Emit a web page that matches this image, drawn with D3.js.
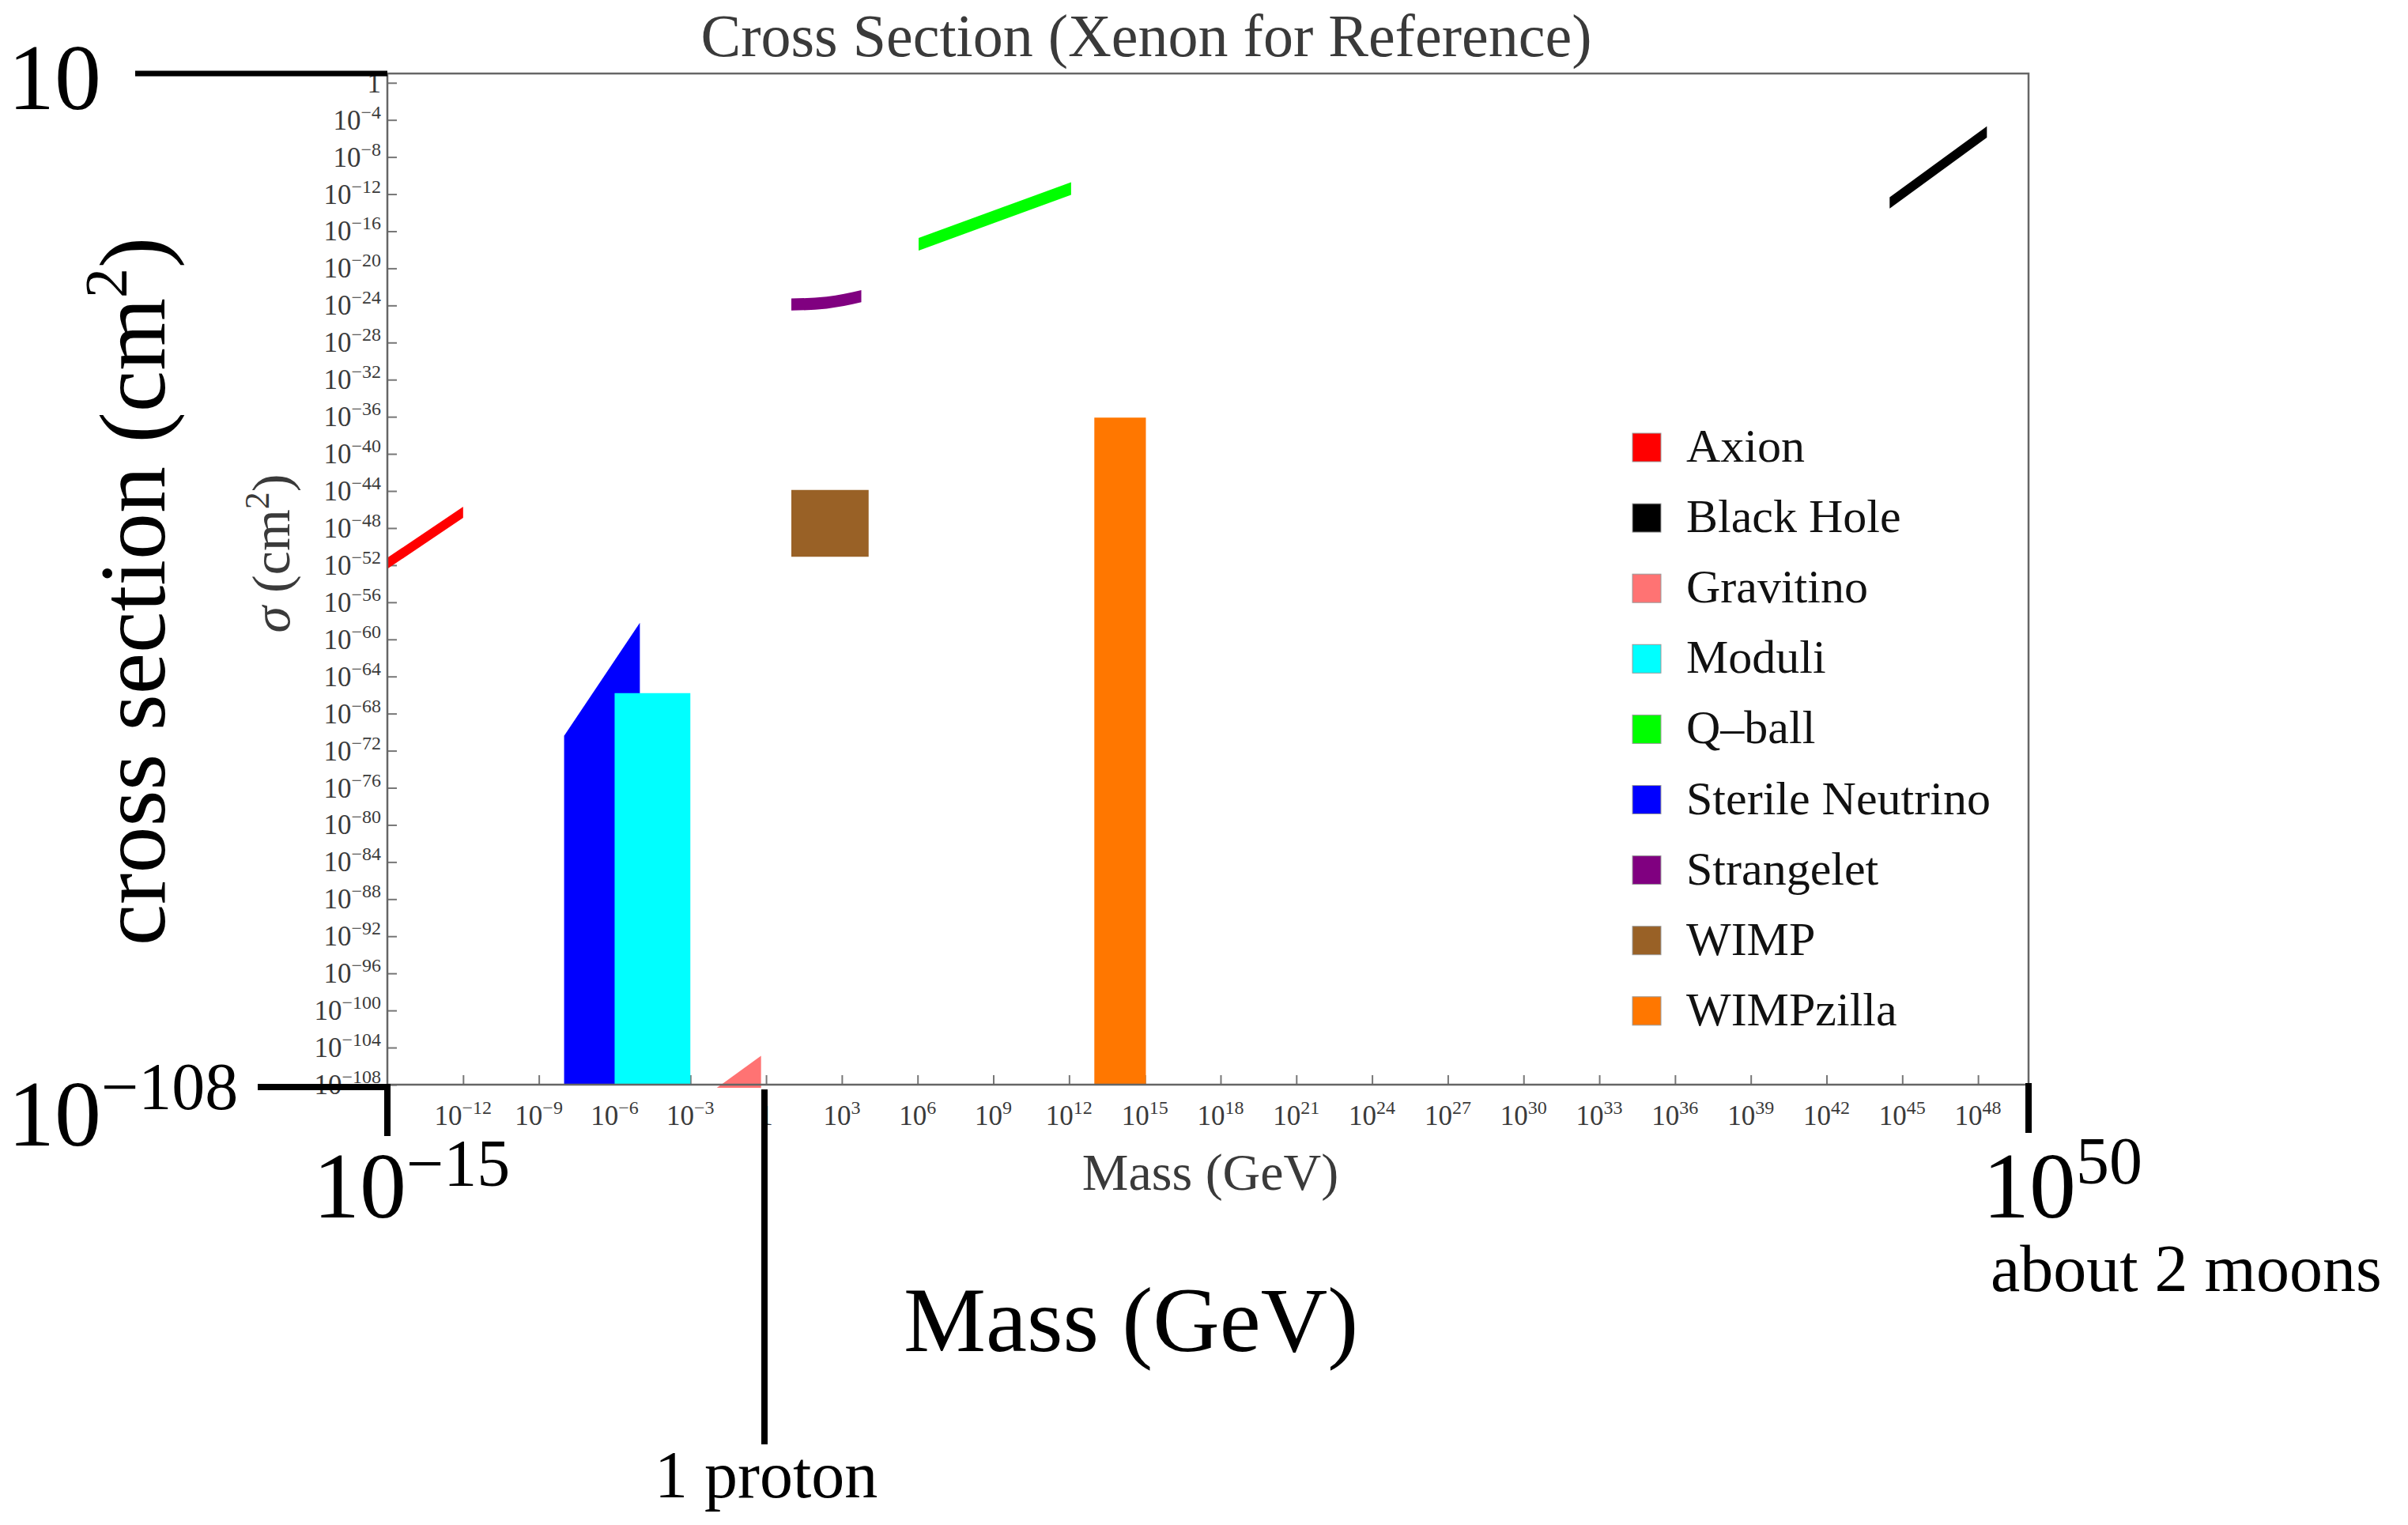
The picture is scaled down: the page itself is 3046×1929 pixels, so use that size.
<!DOCTYPE html>
<html>
<head>
<meta charset="utf-8">
<script src="https://cdn.jsdelivr.net/npm/d3@7"></script>
<style>
body{margin:0;background:#fff;}
svg{display:block;}
text{font-family:"Liberation Serif","Times New Roman",serif;}
</style>
</head>
<body>
<svg id="chart" width="3046" height="1929"></svg>
<script>
// legend / species
const species = ["Axion", "Black Hole", "Gravitino", "Moduli", "Q\u2013ball", "Sterile Neutrino", "Strangelet", "WIMP", "WIMPzilla"];
const colors = ["#ff0000", "#000000", "#ff7373", "#00ffff", "#00ff00", "#0000ff", "#800080", "#996126", "#ff7700"];

// each region: [mass (GeV), sigma low (cm^2), sigma high (cm^2)]
const axion      = [[1e-15, 3.98e-53, 6.3e-52], [1e-12, 1.26e-47, 2.0e-46]];
const blackHole  = [[3.16e44, 2.8e-14, 4.5e-13], [2.24e48, 1.26e-6, 2.0e-5]];
const gravitino  = [[0.0112, 4.5e-109, 4.5e-109], [0.63, 4.5e-109, 1.26e-105]];
const moduli     = [[1e-6, 1e-108, 1.6e-66], [1e-3, 1e-108, 1.6e-66]];
const qball      = [[1.1e6, 8.3e-19, 1.9e-17], [1.2e12, 8.3e-13, 1.9e-11]];
const sterile    = [[1e-8, 1e-108, 3.98e-71], [1e-5, 1e-108, 6.3e-59]];
const strangelet = [[10, 2.8e-25, 5.6e-24], [251, 4.5e-25, 8.9e-24], [5900, 2.2e-24, 4.5e-23]];
const wimp       = [[10, 7.9e-52, 1.26e-44], [1.15e4, 7.9e-52, 1.26e-44]];
const wimpzilla  = [[1e13, 1e-108, 7.9e-37], [1.1e15, 1e-108, 7.9e-37]];

const regions = [axion, blackHole, gravitino, moduli, qball, sterile, strangelet, wimp, wimpzilla];
const drawOrder = [0, 1, 2, 5, 3, 4, 6, 7, 8];

// tick exponents
const xTickExp = [-12, -9, -6, -3, 0, 3, 6, 9, 12, 15, 18, 21, 24, 27, 30, 33, 36, 39, 42, 45, 48];
const yTickExp = [0, -4, -8, -12, -16, -20, -24, -28, -32, -36, -40, -44, -48, -52, -56, -60, -64, -68,
                  -72, -76, -80, -84, -88, -92, -96, -100, -104, -108];

const plotL = 490, plotR = 2566, plotT = 93, plotB = 1372;

const svg = d3.select("#chart");
svg.append("rect").attr("width", 3046).attr("height", 1929).attr("fill", "#fff");

const x = d3.scaleLog().domain([1e-15, 1e50]).range([plotL, plotR]);
const y = d3.scaleLog().domain([1e-108, 10]).range([plotB, plotT]);

function powLabel(t, e, sup, raise){
	if(e === 0){ t.append("tspan").text("1"); return; }
	t.append("tspan").text("10");
	t.append("tspan").attr("font-size", sup).attr("dy", -raise).text(e < 0 ? "\u2212" + (-e) : e);
}

// ticks (inward)
const xAxis = d3.axisBottom(x).tickValues(xTickExp.map(e => Math.pow(10, e)))
	.tickSizeInner(-12).tickSizeOuter(0).tickFormat(() => "");
const yAxis = d3.axisLeft(y).tickValues(yTickExp.map(e => Math.pow(10, e)))
	.tickSizeInner(-12).tickSizeOuter(0).tickFormat(() => "");

const gx = svg.append("g").attr("transform", `translate(0,${plotB})`).call(xAxis);
const gy = svg.append("g").attr("transform", `translate(${plotL},0)`).call(yAxis);
[gx, gy].forEach(g => {
	g.select(".domain").remove();
	g.selectAll(".tick line").attr("stroke", "#777").attr("stroke-width", 2);
});

// tick labels
xTickExp.forEach(e => {
	const t = svg.append("text")
		.attr("x", x(Math.pow(10, e)))
		.attr("y", 1423)
		.attr("text-anchor", "middle")
		.attr("font-size", 35)
		.attr("fill", "#3a3a3a");
	powLabel(t, e, 24, 14);
});
yTickExp.forEach(e => {
	const t = svg.append("text")
		.attr("x", 482)
		.attr("y", y(Math.pow(10, e)) + 12)
		.attr("text-anchor", "end")
		.attr("font-size", 35)
		.attr("fill", "#3a3a3a");
	powLabel(t, e, 24, 14);
});

// regions
const area = d3.area()
	.x(d => x(d[0]))
	.y0(d => y(d[1]))
	.y1(d => y(d[2]))
	.curve(d3.curveMonotoneX);

drawOrder.forEach(i => {
	svg.append("path")
		.datum(regions[i])
		.attr("d", area)
		.attr("fill", colors[i]);
});

// frame
svg.append("rect")
	.attr("x", plotL).attr("y", plotT)
	.attr("width", plotR - plotL).attr("height", plotB - plotT)
	.attr("fill", "none").attr("stroke", "#666").attr("stroke-width", 2.5);

// chart titles
svg.append("text")
	.attr("x", 1450).attr("y", 71)
	.attr("text-anchor", "middle").attr("font-size", 76).attr("fill", "#3a3a3a")
	.text("Cross Section (Xenon for Reference)");

svg.append("text")
	.attr("x", 1531).attr("y", 1505)
	.attr("text-anchor", "middle").attr("font-size", 66).attr("fill", "#3a3a3a")
	.text("Mass (GeV)");

const sig = svg.append("text")
	.attr("transform", "translate(366,700) rotate(-90)")
	.attr("text-anchor", "middle").attr("font-size", 68).attr("fill", "#3a3a3a");
sig.append("tspan").attr("font-style", "italic").text("\u03c3");
sig.append("tspan").text(" (cm");
sig.append("tspan").attr("font-size", 44).attr("dy", -26).text("2");
sig.append("tspan").attr("dy", 26).text(")");

// legend
const legend = svg.append("g");
species.forEach((s, i) => {
	const ly = 548 + i * 89.1;
	legend.append("rect")
		.attr("x", 2065).attr("y", ly)
		.attr("width", 36).attr("height", 36)
		.attr("fill", colors[i])
		.attr("stroke", "#999").attr("stroke-width", 1);
	legend.append("text")
		.attr("x", 2133).attr("y", ly + 36)
		.attr("font-size", 60).attr("fill", "#111")
		.text(s);
});

// annotations
const ann = svg.append("g").attr("stroke", "#000").attr("stroke-width", 8);
ann.append("line").attr("x1", 171).attr("y1", plotT).attr("x2", plotL).attr("y2", plotT).attr("stroke-width", 7);
ann.append("line").attr("x1", 326).attr("y1", 1375).attr("x2", plotL + 4).attr("y2", 1375);
ann.append("line").attr("x1", plotL).attr("y1", 1371).attr("x2", plotL).attr("y2", 1437);
ann.append("line").attr("x1", plotR).attr("y1", 1370).attr("x2", plotR).attr("y2", 1433);
ann.append("line").attr("x1", 967).attr("y1", 1378).attr("x2", 967).attr("y2", 1827);

function bigPow(px, py, base, sup, supY){
	const t = svg.append("text").attr("x", px).attr("y", py).attr("font-size", 118).attr("fill", "#000");
	t.append("tspan").text(base);
	if(sup) t.append("tspan").attr("font-size", 84).attr("y", supY).text(sup);
}
bigPow(10, 138, "10");
bigPow(10, 1449, "10", "\u2212108", 1403);
bigPow(396, 1540, "10", "\u221215", 1500);
bigPow(2508, 1540, "10", "50", 1497);

svg.append("text").attr("x", 2518).attr("y", 1633).attr("font-size", 84).attr("fill", "#000").text("about 2 moons");
svg.append("text").attr("x", 1143).attr("y", 1709).attr("font-size", 117).attr("fill", "#000").text("Mass (GeV)");
svg.append("text").attr("x", 828).attr("y", 1894).attr("font-size", 84).attr("fill", "#000").text("1 proton");

const cs = svg.append("text")
	.attr("transform", "translate(208,748) rotate(-90)")
	.attr("text-anchor", "middle").attr("font-size", 118).attr("fill", "#000");
cs.append("tspan").text("cross section (cm");
cs.append("tspan").attr("font-size", 76).attr("dy", -48).text("2");
cs.append("tspan").attr("dy", 48).text(")");
</script>
</body>
</html>
